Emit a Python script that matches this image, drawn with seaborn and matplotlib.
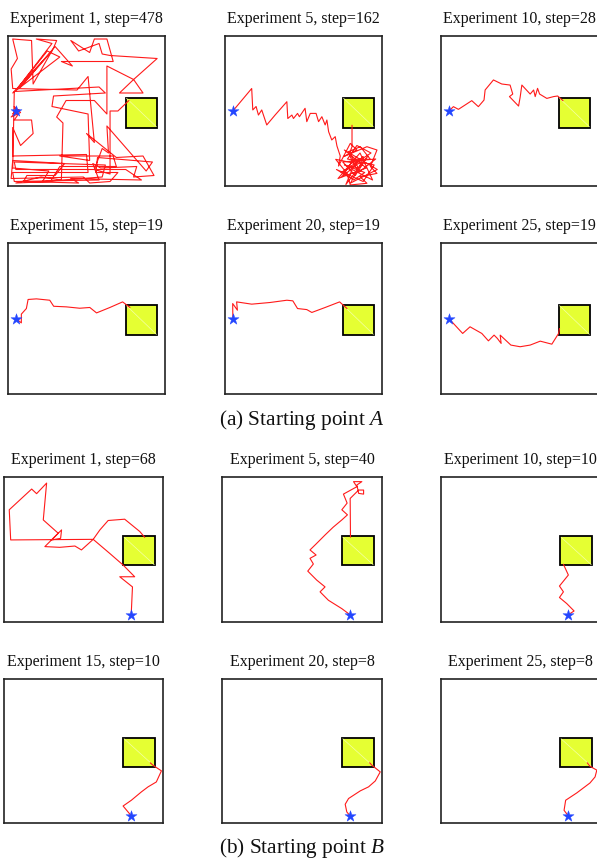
import numpy as np
import pandas as pd
import matplotlib
matplotlib.use("Agg")
import matplotlib.pyplot as plt
from matplotlib.patches import Rectangle
import seaborn as sns

# ---------------- data ----------------
start_a = (5, 50)
start_b = (80, 5)
target = (75, 39, 20, 20)  # x0, y0, w, h

titles_a = ["Experiment 1, step=478", "Experiment 5, step=162", "Experiment 10, step=28",
            "Experiment 15, step=19", "Experiment 20, step=19", "Experiment 25, step=19"]
titles_b = ["Experiment 1, step=68", "Experiment 5, step=40", "Experiment 10, step=10",
            "Experiment 15, step=10", "Experiment 20, step=8", "Experiment 25, step=8"]
captions = ["(a) Starting point $A$", "(b) Starting point $B$"]

path_a1 = [(5, 50), (3, 48), (7, 51), (2, 46), (8, 49), (4, 53), (6, 47), (4, 44), (15, 44), (16, 35),
           (8, 27), (3, 39), (3, 20), (50, 21), (51, 9), (3, 9), (4, 3), (58, 4), (54, 15), (59, 12),
           (82, 13), (80, 6), (93, 7), (86, 20), (69, 19), (50, 35), (55, 29), (51, 73), (44, 64), (3, 65),
           (2, 78), (6, 85), (3, 98), (15, 97), (16, 68), (29, 92), (31, 97), (18, 98), (28, 95), (6, 65),
           (25, 90), (33, 86), (3, 62), (28, 90), (8, 66), (30, 93), (41, 80), (34, 83), (67, 83), (63, 98),
           (55, 98), (52, 89), (40, 97), (45, 90), (58, 95), (60, 88), (65, 87), (95, 85), (80, 71), (86, 62),
           (71, 62), (80, 71), (63, 80), (63, 48), (55, 57), (37, 57), (31, 46), (35, 42), (34, 4), (21, 6),
           (5, 2), (27, 3), (33, 13), (69, 13), (67, 20), (33, 20), (52, 17), (51, 48), (28, 53), (29, 60),
           (62, 62), (58, 66), (4, 63), (3, 12), (26, 10), (22, 3), (60, 6), (62, 14), (4, 16), (5, 11),
           (75, 11), (85, 4), (40, 5), (45, 2), (10, 3), (12, 7), (30, 7), (36, 15), (3, 17), (2, 5),
           (48, 6), (52, 2), (65, 3), (70, 9), (56, 9), (57, 19), (92, 16), (88, 10), (63, 40), (64, 22),
           (60, 25), (55, 11), (65, 8), (65, 50), (70, 50), (77, 57)]
path_a5 = [(5, 50), (17, 65), (17.7, 50.7), (19.8, 53), (21.3, 47.3), (23.4, 50.7), (26.6, 40.7),
           (31.9, 47.3), (39.4, 56.2), (40, 45), (42.6, 47.3), (43.6, 45), (46.2, 48.4), (47.4, 46.2),
           (51, 51.8), (52.1, 42.9), (54.3, 48.4), (58, 48.4), (59.6, 42.9), (61.7, 46.2), (63.8, 40.7),
           (64.9, 44), (66, 36.2), (68, 30.7), (70.2, 32.9), (71.3, 26.7), (73.4, 20), (72.3, 13.3),
           (79.8, 28.4), (84, 24), (75.5, 19.6), (90.4, 26.2), (96.8, 24), (92.6, 13), (96.8, 8.4),
           (86, 6.2), (90.4, 1.8), (79.8, 0.7), (77.7, 8.4), (70.5, 17.8), (83, 15), (88, 19.6),
           (79.8, 10.7), (74.5, 6.2), (81.9, 17.8), (92.6, 17.8), (86.2, 26.2), (78.7, 22.9),
           (85, 12), (76, 14), (89, 9), (82, 4), (71, 11), (88, 3), (95, 14), (78, 18), (84, 27),
           (93, 22), (74, 9), (87, 16), (80, 2), (97, 11), (76, 24), (90, 12), (72, 5), (86, 22),
           (94, 4), (81, 11), (77, 1), (91, 20), (83, 7), (75, 16), (96, 18), (85, 9), (79, 21),
           (80.9, 26.2), (80.9, 40.5)]
path_a10 = [(5, 50), (7.9, 52.9), (11.1, 51.1), (19.6, 56.9), (23.8, 52.9), (27.4, 57.3), (28.1, 64),
            (33.4, 70.7), (38.7, 68), (44, 67.3), (45.7, 61.3), (43.6, 59.6), (49.4, 53.3), (50.4, 59.1),
            (51.5, 67.3), (56.8, 61.3), (59, 64), (60, 59.6), (61.5, 65.1), (62.8, 61.3), (67.4, 58.4),
            (71.7, 59.6), (74.3, 60), (77.7, 56.9)]
path_a15 = [(5, 50), (8.5, 47.1), (8.5, 52.9), (11.7, 56.6), (12.8, 62.6), (18.1, 63), (26.6, 62.1),
            (29.1, 58.1), (37.2, 57.7), (45.7, 56.8), (52.1, 57.3), (56.4, 53.7), (64.9, 57.3),
            (73, 61), (77.7, 57.3)]
path_a20 = [(5, 50), (4.9, 59.9), (7.9, 55.5), (7.4, 61), (17, 59.5), (28.7, 60.6), (39.4, 62.1),
            (43.2, 61.7), (46.2, 56.6), (52.1, 55.9), (55.3, 54), (63.8, 57.3), (73, 61), (77.7, 56.6)]
path_a25 = [(5, 50), (8.9, 45.6), (13.8, 40.1), (18.5, 44.5), (26, 40.1), (30.2, 35.2), (33.8, 39),
            (35.9, 36.8), (38.3, 33.5), (37.7, 39), (44.5, 32.4), (50.4, 31.3), (56.8, 32.4),
            (63.2, 35), (70.6, 33), (74.9, 40.1), (75.5, 43.4)]
path_b1 = [(80, 5), (80.8, 24.2), (72.8, 31.2), (82.2, 31.2), (74.9, 39.3), (66.5, 47.3), (56.1, 57),
           (48.7, 49.7), (44.6, 52.4), (35.1, 51.5), (25.7, 52), (36.2, 63.5), (35.6, 57.7), (29.9, 56.6),
           (34.1, 61.2), (24.7, 70.4), (26.8, 95.8), (20.5, 88.5), (17.4, 91.7), (3.3, 77.4), (4.2, 56.6),
           (56.1, 57), (60.3, 63.5), (65.5, 70), (75.9, 70.9), (85.4, 62.4), (88.5, 58.4)]
path_b5 = [(80, 5), (74.9, 9.2), (66.5, 15), (61.3, 20.8), (64.4, 24.2), (59.2, 28.9), (53.6, 35.1),
           (57.1, 40), (55, 43.9), (58.8, 46.2), (55, 49.7), (58.8, 53.8), (64.4, 60), (69.5, 65.4),
           (74.9, 70.4), (78.4, 73.9), (74.9, 77.4), (78.2, 82), (75.9, 88.2), (84.3, 93.3), (82.2, 96.8),
           (87.4, 96.8), (84.3, 94.5), (85.4, 88.7), (88.5, 88.2), (88.5, 91), (85.4, 91), (80.1, 85.2),
           (80.3, 58.5)]
path_b10 = [(80, 5), (83.7, 7.6), (79.1, 12.7), (74.5, 16.9), (77, 20.8), (74.5, 24.8), (80.1, 32.4),
            (77, 39.8)]
path_b15 = [(80, 5), (78, 7.7), (74.9, 11.8), (80.1, 15.8), (86.4, 21.6), (90.6, 25.1), (95.8, 28.5),
            (99, 36.2), (93.7, 40.1), (92, 41.8)]
path_b20 = [(80, 5), (78, 7.7), (77, 13), (79.1, 17), (86.4, 22.3), (91.6, 25.1), (95.8, 29.2),
            (98.9, 35.5), (93.7, 40.1), (92.3, 41.8)]
path_b25 = [(80, 5), (77.4, 8.8), (78.4, 15.8), (85.4, 20.9), (93.7, 27.8), (96.9, 32), (98, 36.7),
            (93.7, 39.4), (92, 41.8)]

paths_a = [path_a1, path_a5, path_a10, path_a15, path_a20, path_a25]
paths_b = [path_b1, path_b5, path_b10, path_b15, path_b20, path_b25]

# ---------------- style ----------------
sns.set_theme(style="white")
plt.rcParams["font.family"] = ["Liberation Serif", "DejaVu Serif"]
plt.rcParams["mathtext.fontset"] = "custom"
plt.rcParams["mathtext.rm"] = "Liberation Serif"
plt.rcParams["mathtext.it"] = "Liberation Serif:italic"

W, H = 597, 859
fig = plt.figure(figsize=(W / 100, H / 100), dpi=100)
fig.patch.set_facecolor("white")


def rect(x0, y0, x1, y1):
    return [x0 / W, 1 - y1 / H, (x1 - x0) / W, (y1 - y0) / H]


cols_a = [(8, 165), (225, 382), (441, 598)]
rows_a = [(36, 186), (243, 394)]
cols_b = [(4, 163), (222, 382), (441, 600)]
rows_b = [(477, 622), (679, 823)]


def panel(box, path, start, title):
    ax = fig.add_axes(rect(*box))
    ax.add_patch(Rectangle((target[0], target[1]), target[2], target[3],
                           facecolor="#e5ff33", edgecolor="black", lw=1.3, zorder=1))
    ax.plot([target[0] + 0.5, target[0] + target[2] - 0.5],
            [target[1] + target[3] - 0.5, target[1] + 0.5],
            color="#f4ffa8", lw=0.5, zorder=1.5)
    df = pd.DataFrame(path, columns=["x", "y"])
    sns.lineplot(data=df, x="x", y="y", sort=False, estimator=None, color="#ff1a1a",
                 lw=0.8, ax=ax, zorder=2)
    sdf = pd.DataFrame({"x": [start[0]], "y": [start[1]]})
    sns.scatterplot(data=sdf, x="x", y="y", marker="*", s=70, color="#2346ff",
                    edgecolor="#2346ff", linewidth=0.3, ax=ax, zorder=3)
    ax.set_xlim(0, 100)
    ax.set_ylim(0, 100)
    ax.set_xticks([])
    ax.set_yticks([])
    ax.set_xlabel("")
    ax.set_ylabel("")
    for sp in ax.spines.values():
        sp.set_visible(True)
        sp.set_color("#222222")
        sp.set_linewidth(1.2)
    ax.set_title(title, fontsize=11.5, pad=9.5, color="#111111")
    return ax


for i in range(6):
    r, c = divmod(i, 3)
    panel((cols_a[c][0], rows_a[r][0], cols_a[c][1], rows_a[r][1]), paths_a[i], start_a, titles_a[i])
    panel((cols_b[c][0], rows_b[r][0], cols_b[c][1], rows_b[r][1]), paths_b[i], start_b, titles_b[i])

fig.text(302 / W, 1 - 425 / H, captions[0], ha="center", va="baseline", fontsize=15.3, color="#111111")
fig.text(302 / W, 1 - 853 / H, captions[1], ha="center", va="baseline", fontsize=15.3, color="#111111")

fig.savefig("out.png", dpi=100, facecolor="white")
